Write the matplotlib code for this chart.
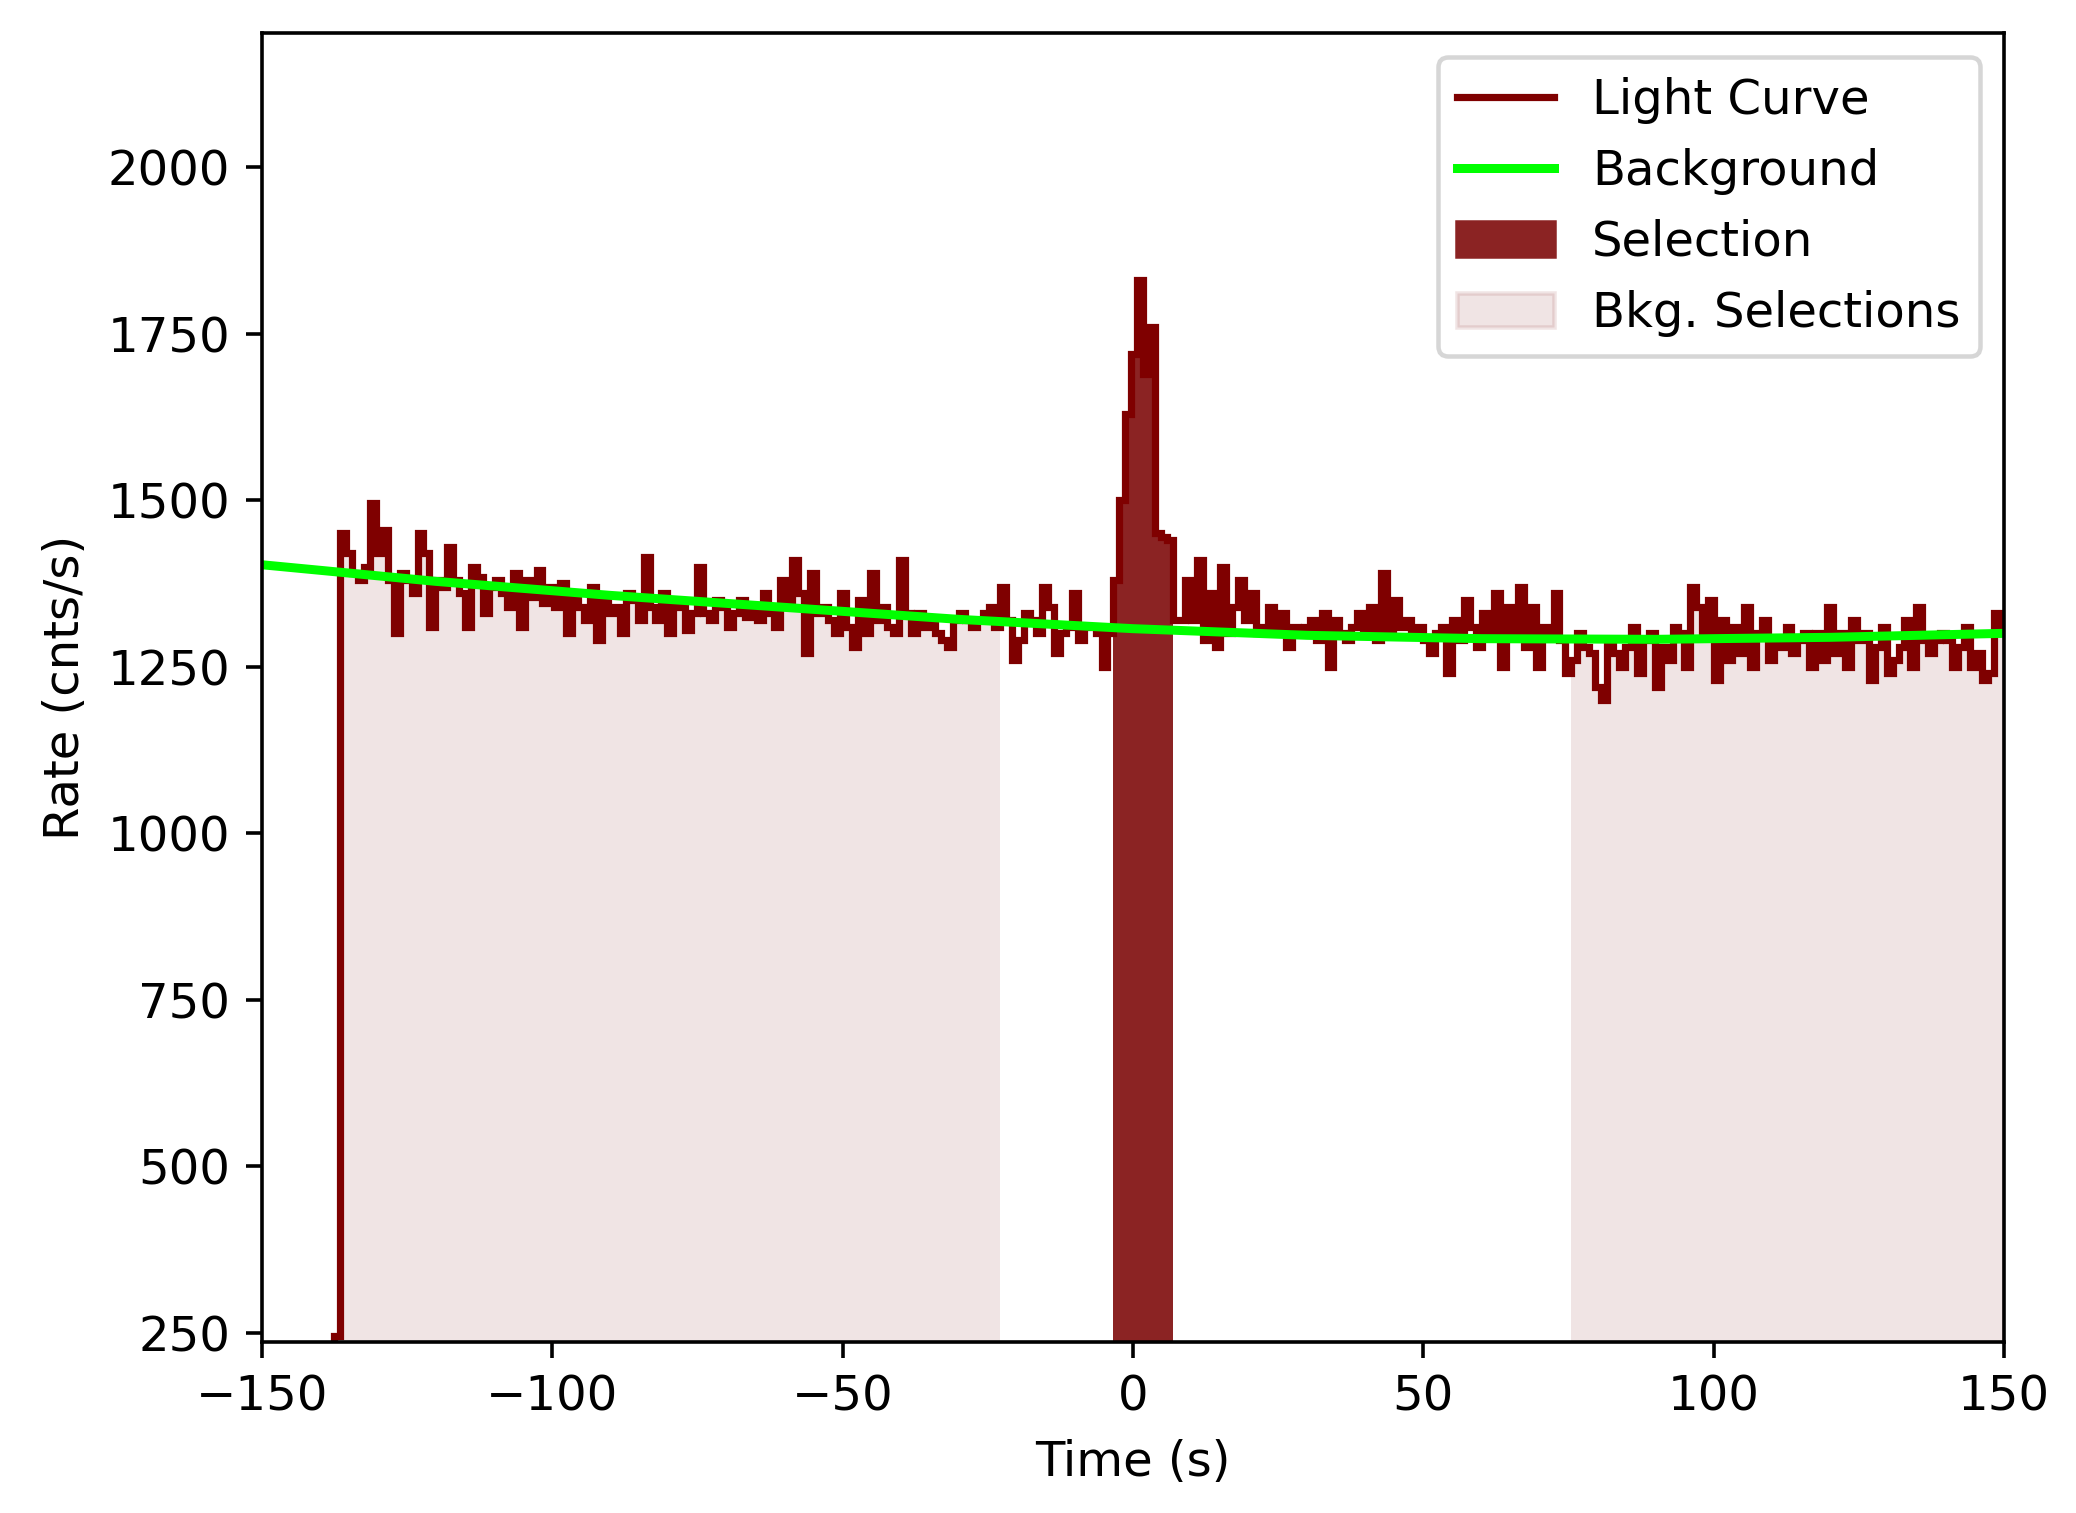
import numpy as np
import matplotlib
matplotlib.use("Agg")
import matplotlib.pyplot as plt
from matplotlib.patches import Patch
from matplotlib.lines import Line2D

# light curve, 1.024 s bins starting at t0
t0 = -137.5
binwidth = 1.024
rates = [
    245, 1450, 1420, 1390, 1380, 1400, 1495, 1420, 1455, 1380,
    1300, 1390, 1380, 1360, 1450, 1420, 1310, 1380, 1370, 1430,
    1380, 1360, 1310, 1400, 1385, 1330, 1370, 1380, 1360, 1340,
    1390, 1310, 1380, 1355, 1395, 1345, 1370, 1340, 1375, 1300,
    1360, 1340, 1320, 1370, 1290, 1350, 1330, 1340, 1300, 1360,
    1350, 1320, 1415, 1340, 1320, 1360, 1300, 1350, 1340, 1305,
    1330, 1400, 1330, 1320, 1350, 1340, 1310, 1330, 1350, 1325,
    1340, 1320, 1360, 1330, 1310, 1380, 1340, 1410, 1360, 1270,
    1390, 1330, 1340, 1320, 1300, 1360, 1310, 1280, 1350, 1300,
    1390, 1320, 1340, 1310, 1300, 1410, 1330, 1300, 1330, 1310,
    1320, 1300, 1290, 1280, 1320, 1330, 1320, 1310, 1320, 1330,
    1340, 1310, 1370, 1320, 1260, 1290, 1330, 1320, 1300, 1370,
    1340, 1270, 1300, 1310, 1360, 1290, 1310, 1310, 1300, 1250,
    1300, 1380, 1500, 1630, 1720, 1830, 1690, 1760, 1450, 1445,
    1440, 1320, 1320, 1380, 1320, 1410, 1290, 1360, 1280, 1400,
    1300, 1340, 1380, 1320, 1360, 1300, 1310, 1340, 1300, 1330,
    1280, 1310, 1300, 1310, 1320, 1290, 1330, 1250, 1320, 1300,
    1290, 1310, 1330, 1300, 1340, 1290, 1390, 1300, 1350, 1310,
    1320, 1300, 1310, 1290, 1270, 1300, 1310, 1240, 1320, 1290,
    1350, 1310, 1280, 1330, 1300, 1360, 1250, 1340, 1300, 1370,
    1280, 1340, 1250, 1310, 1300, 1360, 1290, 1240, 1260, 1300,
    1280, 1270, 1220, 1200, 1290, 1270, 1250, 1280, 1310, 1240,
    1290, 1300, 1220, 1280, 1260, 1310, 1300, 1250, 1370, 1340,
    1300, 1350, 1230, 1320, 1260, 1310, 1270, 1340, 1250, 1300,
    1320, 1260, 1290, 1280, 1310, 1270, 1290, 1300, 1250, 1300,
    1260, 1340, 1270, 1300, 1250, 1320, 1290, 1300, 1230, 1280,
    1310, 1240, 1260, 1280, 1320, 1250, 1340, 1290, 1270, 1290,
    1300, 1290, 1250, 1280, 1310, 1250, 1270, 1230, 1240, 1330,
    1300,
]

# background model knots
bkg_time = [-150, -120, -90, -60, -30, 0, 30, 60, 90, 120, 150]
bkg_rate = [1403, 1378, 1357, 1339, 1321, 1307, 1297, 1292, 1291, 1294, 1300]

src_range = (-3.3, 6.5)
bkg_ranges = [(-137.0, -23.0), (75.0, 150.0)]

ymin, ymax = 236, 2201

plt.rcParams["font.size"] = 10.7

rates = np.array(rates, dtype=float)
edges = t0 + binwidth * np.arange(len(rates) + 1)
centers = 0.5 * (edges[:-1] + edges[1:])

fig = plt.figure(figsize=(6.41, 4.67), dpi=324)
ax = fig.add_axes([0.126, 0.113, 0.839, 0.865])

sel_color = "#8b2323"


def fill_range(lo, hi, **kw):
    idx = np.where((centers >= lo) & (centers <= hi))[0]
    ax.stairs(rates[idx], edges[idx[0]:idx[-1] + 2], fill=True, baseline=ymin, **kw)


for lo, hi in bkg_ranges:
    fill_range(lo, hi, color=sel_color, alpha=0.12, lw=0)
fill_range(*src_range, color=sel_color, lw=0)

ax.stairs(rates, edges, color="#7f0000", lw=1.6)
ax.plot(bkg_time, bkg_rate, color="#00ff00", lw=2)

ax.set_xlim(-150, 150)
ax.set_ylim(ymin, ymax)
ax.set_yticks([250, 500, 750, 1000, 1250, 1500, 1750, 2000])
ax.set_xlabel("Time (s)")
ax.set_ylabel("Rate (cnts/s)")

handles = [
    Line2D([], [], color="#7f0000", lw=1.6),
    Line2D([], [], color="#00ff00", lw=2),
    Patch(color=sel_color),
    Patch(facecolor=sel_color, alpha=0.12, edgecolor=sel_color),
]
ax.legend(handles, ["Light Curve", "Background", "Selection", "Bkg. Selections"],
          loc="upper right")

fig.savefig("out.png", dpi=324)
